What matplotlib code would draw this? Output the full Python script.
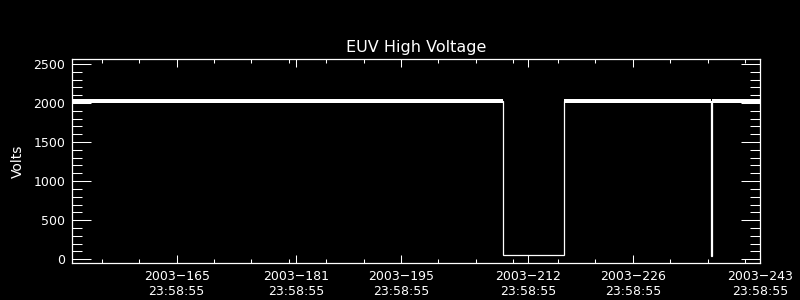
import matplotlib
matplotlib.use("Agg")
import matplotlib.pyplot as plt
from matplotlib.ticker import FixedLocator, MultipleLocator

# day of year 2003 (at 23:58:55) and EUV high voltage readings
days = [151.0, 208.6, 208.6, 216.8, 216.8, 236.45, 236.45, 236.6, 236.6, 243.0]
volts = [2025, 2025, 50, 50, 2025, 2025, 45, 45, 2025, 2025]
# spread of the noisy readings around each point
volts_lo = [2005, 2005, 50, 50, 2005, 2005, 45, 45, 2005, 2005]
volts_hi = [2048, 2048, 50, 50, 2048, 2048, 45, 45, 2048, 2048]

major_days = [165, 181, 195, 212, 226, 243]
minor_days = [155, 160, 170, 175, 180, 185, 190, 200, 205, 210,
              216, 221, 231, 236, 241]
tick_labels = ["2003\u2212%d\n23:58:55" % d for d in major_days]

fig = plt.figure(figsize=(8, 3), dpi=100, facecolor="black")
ax = fig.add_axes([0.09, 0.1233, 0.86, 0.68], facecolor="black")

ax.fill_between(days, volts_lo, volts_hi, color="white", linewidth=0)
ax.plot(days, volts, color="white", linewidth=0.9, solid_joinstyle="miter")

ax.set_xlim(151.0, 243.0)
ax.set_ylim(-50, 2565)

ax.xaxis.set_major_locator(FixedLocator(major_days))
ax.xaxis.set_minor_locator(FixedLocator(minor_days))
ax.set_xticklabels(tick_labels)
ax.yaxis.set_major_locator(MultipleLocator(500))
ax.yaxis.set_minor_locator(MultipleLocator(100))

for s in ax.spines.values():
    s.set_color("white")
    s.set_linewidth(0.9)

ax.tick_params(axis="both", which="both", direction="in", colors="white",
               top=True, right=True, width=0.75, labelsize=9)
ax.tick_params(axis="x", which="major", length=6, pad=5)
ax.tick_params(axis="x", which="minor", length=3)
ax.tick_params(axis="y", which="major", length=14, pad=5)
ax.tick_params(axis="y", which="minor", length=7)

ax.set_title("EUV High Voltage", color="white", fontsize=11.5, pad=5)
ax.set_ylabel("Volts", color="white", fontsize=10, labelpad=6)

fig.savefig("out.png", dpi=100, facecolor="black")
